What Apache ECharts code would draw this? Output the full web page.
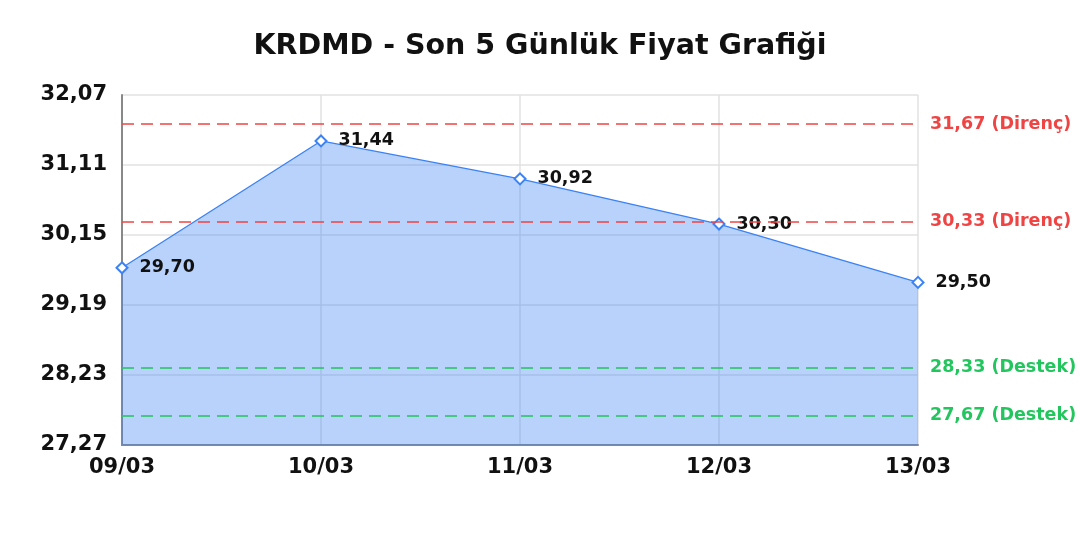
<!DOCTYPE html>
<html><head><meta charset="utf-8">
<script src="https://cdn.jsdelivr.net/npm/echarts@6/dist/echarts.min.js"></script>
<style>html,body{margin:0;padding:0;background:#fff}#c{width:1080px;height:540px}</style>
</head><body><div id="c"></div>
<script>
const categories = ['09/03','10/03','11/03','12/03','13/03'];
const prices = [29.70, 31.44, 30.92, 30.30, 29.50];
const resistance = [31.67, 30.33];
const support = [28.33, 27.67];
const yMin = 27.27, yMax = 32.07, yInterval = 0.96;
const fmt = v => v.toFixed(2).replace('.', ',');
const font = "DejaVu Sans";
const chart = echarts.init(document.getElementById('c'));
const lines = [];
resistance.forEach(v => lines.push({yAxis: v, lineStyle:{color:'#ef4444'}, label:{color:'#ef4444', formatter: fmt(v) + ' (Direnç)'}}));
support.forEach(v => lines.push({yAxis: v, lineStyle:{color:'#22c55e'}, label:{color:'#22c55e', formatter: fmt(v) + ' (Destek)'}}));
chart.setOption({
  animation: false,
  title: {text: 'KRDMD - Son 5 Günlük Fiyat Grafiği', left: 'center', top: 27,
    textStyle: {fontFamily: font, fontSize: 28.5, fontWeight: 'bold', color: '#111'}},
  grid: {left: 122, right: 162, top: 95, bottom: 95},
  xAxis: {type: 'category', data: categories, boundaryGap: false,
    axisLine: {lineStyle: {color: '#888', width: 2}}, axisTick: {show: false},
    splitLine: {show: true, lineStyle: {color: '#e2e2e2', width: 1.5}},
    axisLabel: {fontFamily: font, fontSize: 21, fontWeight: 'bold', color: '#111', margin: 12}},
  yAxis: {type: 'value', min: yMin, max: yMax, interval: yInterval,
    axisLine: {show: true, lineStyle: {color: '#888', width: 2}}, axisTick: {show: false},
    splitLine: {lineStyle: {color: '#e2e2e2', width: 1.5}},
    axisLabel: {fontFamily: font, fontSize: 21, fontWeight: 'bold', color: '#111', margin: 15, formatter: v => fmt(v)}},
  series: [{
    type: 'line', data: prices, symbol: 'emptyDiamond', symbolSize: 11,
    lineStyle: {color: '#3b82f6', width: 1.3},
    itemStyle: {color: '#3b82f6', borderWidth: 2},
    areaStyle: {color: 'rgba(59,130,246,0.36)', opacity: 1},
    label: {show: true, position: 'right', distance: 11, fontFamily: font, fontSize: 17.5, fontWeight: 'bold', color: '#111', formatter: p => fmt(p.value)},
    markLine: {silent: true, symbol: 'none',
      lineStyle: {type: [12, 7], width: 1.5},
      label: {position: 'end', distance: 12, fontFamily: font, fontSize: 17.5, fontWeight: 'bold'},
      data: lines}
  }]
});
</script></body></html>
